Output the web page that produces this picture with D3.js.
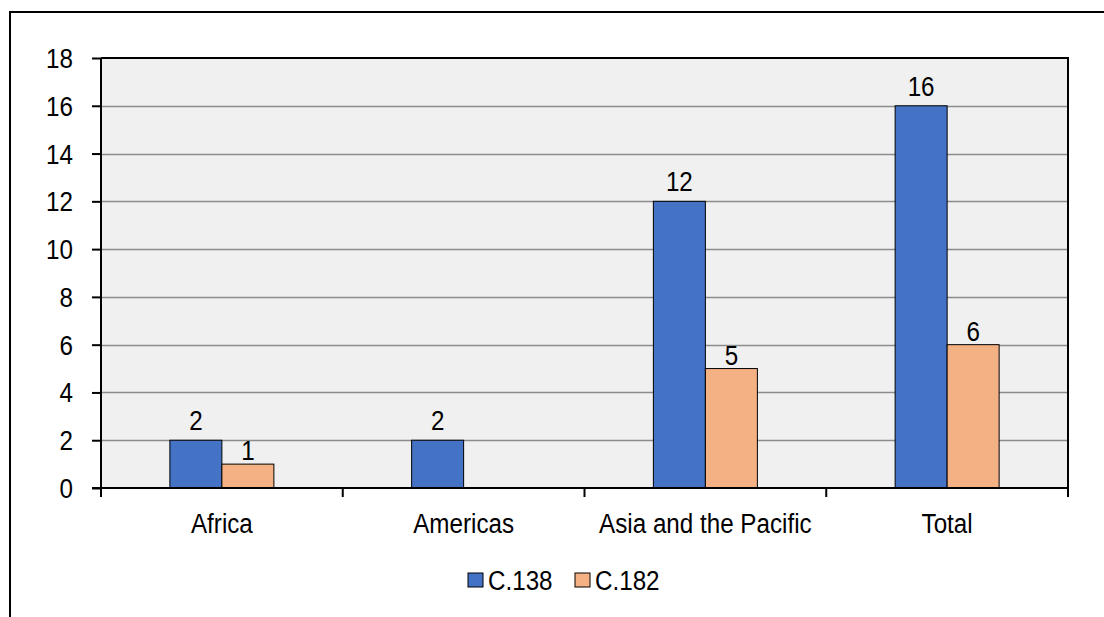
<!DOCTYPE html>
<html>
<head>
<meta charset="utf-8">
<script src="https://cdn.jsdelivr.net/npm/d3@7"></script>
<style>
  html, body { margin: 0; padding: 0; background: #fff; }
  svg { display: block; }
  svg text { font-family: "Liberation Sans", Arial, sans-serif; fill: #000; }
</style>
</head>
<body>
<svg id="chart" width="1104" height="617"></svg>
<script>
// Ratifications by region
const categories = ["Africa", "Americas", "Asia and the Pacific", "Total"];
const seriesNames = ["C.138", "C.182"];
const c138 = [2, 2, 12, 16];
const c182 = [1, null, 5, 6];
const yTicks = [0, 2, 4, 6, 8, 10, 12, 14, 16, 18];
const colors = ["#4472C4", "#F4B183"];
const FS = 28;
const NARROW = 0.865; // condensed text width
const labelGap = [10, 4]; // distance of value labels above bar tops, per series

const svg = d3.select("#chart");
const margin = { left: 101, top: 58, right: 1068, bottom: 488 };

// Places a condensed text label with its anchor at (px, py)
function label(parent, px, py, txt, anchor) {
  return parent.append("text")
    .attr("transform", `translate(${px},${py}) scale(${NARROW},1)`)
    .attr("text-anchor", anchor || "start")
    .attr("font-size", FS)
    .text(txt);
}

// Outer frame
svg.append("path")
  .attr("d", "M10,617 L10,12 L1104,12")
  .attr("fill", "none").attr("stroke", "#000").attr("stroke-width", 2);

const x = d3.scaleBand().domain(categories).range([margin.left, margin.right]);
const y = d3.scaleLinear().domain([0, 18]).range([margin.bottom, margin.top]);

// Plot background
svg.append("rect")
  .attr("x", margin.left).attr("y", margin.top)
  .attr("width", margin.right - margin.left).attr("height", margin.bottom - margin.top)
  .attr("fill", "#f0f0f0");

// Horizontal gridlines
svg.append("g").selectAll("line").data(yTicks.filter(d => d > 0 && d < 18)).join("line")
  .attr("x1", margin.left).attr("x2", margin.right)
  .attr("y1", d => Math.round(y(d)) + 0.5).attr("y2", d => Math.round(y(d)) + 0.5)
  .attr("stroke", "#8c8c8c").attr("stroke-width", 1.3);

// Top and right edges of plot area
svg.append("path")
  .attr("d", `M${margin.left},${margin.top} L${margin.right},${margin.top} L${margin.right},${margin.bottom}`)
  .attr("fill", "none").attr("stroke", "#000").attr("stroke-width", 2);

// Bars with value labels
const inner = d3.scaleBand().domain(seriesNames).range([0, 104]);
const groupOffset = (x.bandwidth() - 104) / 2;
const series = [c138, c182];
series.forEach((vals, si) => {
  const g = svg.append("g");
  const data = categories.map((c, i) => ({ c, v: vals[i] })).filter(d => d.v != null);
  g.selectAll("rect").data(data).join("rect")
    .attr("x", d => x(d.c) + groupOffset + inner(seriesNames[si]))
    .attr("y", d => y(d.v))
    .attr("width", inner.bandwidth())
    .attr("height", d => y(0) - y(d.v))
    .attr("fill", colors[si])
    .attr("stroke", "#000").attr("stroke-width", 1);
  data.forEach(d => {
    label(g, x(d.c) + groupOffset + inner(seriesNames[si]) + inner.bandwidth() / 2,
      y(d.v) - labelGap[si], d.v, "middle");
  });
});

// Y axis
const yAxis = d3.axisLeft(y).tickValues(yTicks).tickSize(9).tickFormat("");
const ya = svg.append("g").attr("transform", `translate(${margin.left},0)`).call(yAxis);
ya.select(".domain").attr("stroke", "#000").attr("stroke-width", 2).attr("d", `M0,${margin.top}V${margin.bottom}`);
ya.selectAll(".tick line").attr("stroke", "#000").attr("stroke-width", 2);
ya.selectAll(".tick text").remove();
const yl = svg.append("g");
yTicks.forEach(t => label(yl, margin.left - 28, y(t) + 10, t, "end"));

// X axis
const xb = svg.append("g").attr("transform", `translate(0,${margin.bottom})`);
xb.append("line").attr("x1", margin.left - 9).attr("x2", margin.right)
  .attr("y1", 0).attr("y2", 0).attr("stroke", "#000").attr("stroke-width", 2);
const bounds = categories.map(c => x(c)).concat([margin.right]);
xb.selectAll("line.tk").data(bounds).join("line").attr("class", "tk")
  .attr("x1", d => d).attr("x2", d => d).attr("y1", 0).attr("y2", 9)
  .attr("stroke", "#000").attr("stroke-width", 2);
categories.forEach(c => label(xb, x(c) + x.bandwidth() / 2, 45, c, "middle"));

// Legend
const legend = svg.append("g");
const legendX = [468, 575];
seriesNames.forEach((n, i) => {
  legend.append("rect").attr("x", legendX[i]).attr("y", 573).attr("width", 15).attr("height", 14)
    .attr("fill", colors[i]).attr("stroke", "#000").attr("stroke-width", 1);
  label(legend, legendX[i] + 20, 590, n, "start");
});
</script>
</body>
</html>
